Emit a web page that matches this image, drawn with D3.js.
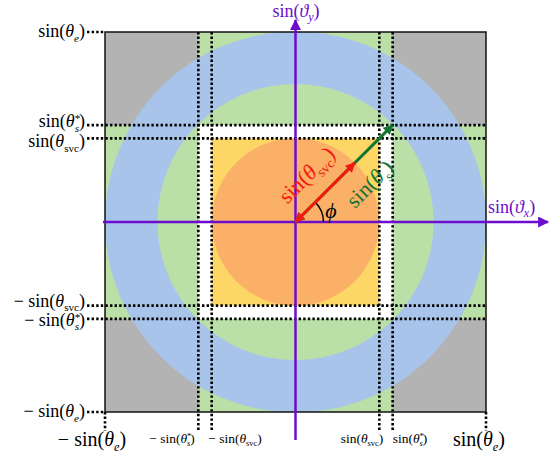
<!DOCTYPE html>
<html>
<head>
<meta charset="utf-8">
<script src="https://cdn.jsdelivr.net/npm/d3@7"></script>
<style>
  body { margin: 0; background: #fff; }
  text { font-family: "Liberation Serif", "DejaVu Serif", serif; }
</style>
</head>
<body>
<svg id="chart" width="554" height="455"></svg>
<script>
// bounds (in sin units)
var sinE = 1.0, sinS = 0.51, sinSvc = 0.44;
// circle radii, outer to inner
var circleNames = ["blue", "green", "orange"];
var circleRadii = [1.0, 0.725, 0.44];
var circleColors = ["#a8c4ea", "#badfa7", "#fbb068"];
// arrows
var arrowAngleDeg = 45;
var arrowLengths = [sinSvc, sinS * Math.SQRT2];
// tick labels: [sign, subscript, star]
var tickNames = [["", "e", false], ["", "s", true], ["", "svc", false],
                 ["− ", "svc", false], ["− ", "s", true], ["− ", "e", false]];
var tickValues = [sinE, sinS, sinSvc, -sinSvc, -sinS, -sinE];

var svg = d3.select("#chart");
var x = d3.scaleLinear().domain([-1, 1]).range([105, 486]),
    y = d3.scaleLinear().domain([-1, 1]).range([412, 32]);
var px = function (r) { return x(r) - x(0); };

var purple = "#6c0ccc", red = "#f21a0e", dgreen = "#157530";

var defs = svg.append("defs");
function marker(id, color, w, h) {
    defs.append("marker")
        .attr("id", id)
        .attr("viewBox", "0 0 10 10")
        .attr("refX", 9).attr("refY", 5)
        .attr("markerUnits", "userSpaceOnUse")
        .attr("markerWidth", w).attr("markerHeight", h)
        .attr("orient", "auto-start-reverse")
        .append("path").attr("d", "M0,0 L10,5 L0,10 Z").attr("fill", color);
}
marker("ap", purple, 13, 11);
marker("ar", red, 11, 10);
marker("ag", dgreen, 11, 10);

var clip = defs.append("clipPath").attr("id", "sq");
clip.append("rect").attr("x", x(-1)).attr("y", y(1))
    .attr("width", x(1) - x(-1)).attr("height", y(-1) - y(1));

// gray square
svg.append("rect").attr("x", x(-1)).attr("y", y(1))
    .attr("width", x(1) - x(-1)).attr("height", y(-1) - y(1))
    .attr("fill", "#b3b3b3");

// green cross bands
svg.append("rect").attr("x", x(-sinS)).attr("y", y(1))
    .attr("width", x(sinS) - x(-sinS)).attr("height", y(-1) - y(1))
    .attr("fill", "#badfa7");
svg.append("rect").attr("x", x(-1)).attr("y", y(sinS))
    .attr("width", x(1) - x(-1)).attr("height", y(-sinS) - y(sinS))
    .attr("fill", "#badfa7");

// blue + green circles
var cg = svg.append("g").attr("clip-path", "url(#sq)");
cg.selectAll("circle.big")
    .data([0, 1])
    .enter().append("circle")
    .attr("class", "big")
    .attr("cx", x(0)).attr("cy", y(0))
    .attr("r", function (i) { return px(circleRadii[i]); })
    .attr("fill", function (i) { return circleColors[i]; });

// white square, yellow square, orange circle
svg.append("rect").attr("x", x(-sinS)).attr("y", y(sinS))
    .attr("width", x(sinS) - x(-sinS)).attr("height", y(-sinS) - y(sinS))
    .attr("fill", "#fff");
svg.append("rect").attr("x", x(-sinSvc)).attr("y", y(sinSvc))
    .attr("width", x(sinSvc) - x(-sinSvc)).attr("height", y(-sinSvc) - y(sinSvc))
    .attr("fill", "#fdd766");
svg.append("circle").attr("cx", x(0)).attr("cy", y(0))
    .attr("r", px(circleRadii[2])).attr("fill", circleColors[2]);

// square outline
svg.append("rect").attr("x", x(-1)).attr("y", y(1))
    .attr("width", x(1) - x(-1)).attr("height", y(-1) - y(1))
    .attr("fill", "none").attr("stroke", "#111").attr("stroke-width", 1.5);

// dotted guide lines
var dot = svg.append("g")
    .attr("stroke", "#000").attr("stroke-width", 2.6)
    .attr("stroke-dasharray", "2.4,2.2").attr("fill", "none");
tickValues.forEach(function (v) {
    var full = Math.abs(v) < 1;
    dot.append("line")
        .attr("x1", 87).attr("x2", full ? x(1) + 1 : x(-1))
        .attr("y1", y(v)).attr("y2", y(v));
    dot.append("line")
        .attr("x1", x(v)).attr("x2", x(v))
        .attr("y1", full ? y(1) : y(-1)).attr("y2", 431);
});

// axes
svg.append("line").attr("x1", x(-1) - 2).attr("x2", 548)
    .attr("y1", y(0)).attr("y2", y(0))
    .attr("stroke", purple).attr("stroke-width", 2.5).attr("marker-end", "url(#ap)");
svg.append("line").attr("x1", x(0)).attr("x2", x(0))
    .attr("y1", 440).attr("y2", 20)
    .attr("stroke", purple).attr("stroke-width", 2.5).attr("marker-end", "url(#ap)");

// angle arc
var a = arrowAngleDeg * Math.PI / 180;
svg.append("path")
    .attr("d", d3.arc().innerRadius(28).outerRadius(28)
        .startAngle(Math.PI / 2 - a).endAngle(Math.PI / 2)())
    .attr("transform", "translate(" + x(0) + "," + y(0) + ")")
    .attr("fill", "none").attr("stroke", "#000").attr("stroke-width", 1.5);

// arrows
var arrowColors = [red, dgreen], arrowMarkers = ["ar", "ag"];
svg.selectAll("line.vec")
    .data([1, 0])
    .enter().append("line")
    .attr("class", "vec")
    .attr("x1", x(0)).attr("y1", y(0))
    .attr("x2", function (i) { return x(arrowLengths[i] * Math.cos(a)); })
    .attr("y2", function (i) { return y(arrowLengths[i] * Math.sin(a)); })
    .attr("stroke", function (i) { return arrowColors[i]; })
    .attr("stroke-width", 3)
    .attr("marker-start", function (i) { return "url(#" + arrowMarkers[i] + ")"; })
    .attr("marker-end", function (i) { return "url(#" + arrowMarkers[i] + ")"; });

// text helper
function sinLabel(g, sign, sym, sub, star, size) {
    var t = g.append("text").attr("font-size", size);
    var s = size * 0.62;
    t.append("tspan").text(sign + "sin(");
    t.append("tspan").attr("font-style", "italic").text(sym);
    if (star) {
        t.append("tspan").attr("font-size", s).attr("dy", -size * 0.3).text("*");
        t.append("tspan").attr("font-size", s).attr("font-style", "italic")
            .attr("dx", -s * 0.5).attr("dy", size * 0.55).text(sub);
        t.append("tspan").attr("dy", -size * 0.25).text(")");
    } else {
        t.append("tspan").attr("font-size", s)
            .attr("font-style", sub.length > 1 ? "normal" : "italic")
            .attr("dy", size * 0.25).text(sub);
        t.append("tspan").attr("dy", -size * 0.25).text(")");
    }
    return t;
}

// left tick labels (small nudges to keep close pairs apart)
var leftNudge = [0, -3, 4, -4, 2, 0];
tickNames.forEach(function (d, i) {
    sinLabel(svg.append("g"), d[0], "θ", d[1], d[2], 18)
        .attr("text-anchor", "end").attr("x", 85)
        .attr("y", y(tickValues[i]) + leftNudge[i] + 5);
});

// bottom tick labels
var bottomX = [479, 410, 362, 235, 172, 92];
var bottomSize = [20, 13.5, 13.5, 13.5, 13.5, 20];
tickNames.forEach(function (d, i) {
    sinLabel(svg.append("g"), d[0], "θ", d[1], d[2], bottomSize[i])
        .attr("text-anchor", "middle").attr("x", bottomX[i])
        .attr("y", bottomSize[i] > 15 ? 446 : 443);
});

// axis labels
function axisLabel(sub, lx, ly, anchor) {
    var t = svg.append("text").attr("fill", purple).attr("font-size", 18)
        .attr("text-anchor", anchor).attr("x", lx).attr("y", ly);
    t.append("tspan").text("sin(");
    t.append("tspan").attr("font-style", "italic").text("ϑ");
    t.append("tspan").attr("font-style", "italic").attr("font-size", 12).attr("dy", 4).text(sub);
    t.append("tspan").attr("dy", -4).text(")");
}
axisLabel("x", 488, 213, "start");
axisLabel("y", 296, 17, "middle");

// arrow labels
var rl = svg.append("g").attr("transform", "translate(312,180) rotate(-45)");
sinLabel(rl, "", "θ", "svc", false, 22).attr("fill", red).attr("text-anchor", "middle");
var gl = svg.append("g").attr("transform", "translate(375,189) rotate(-45)");
sinLabel(gl, "", "θ", "s", false, 22).attr("fill", dgreen).attr("text-anchor", "middle");

// phi
svg.append("text").attr("font-size", 22).attr("font-style", "italic")
    .attr("text-anchor", "middle")
    .attr("x", 331).attr("y", 218).text("ϕ");
</script>
</body>
</html>
